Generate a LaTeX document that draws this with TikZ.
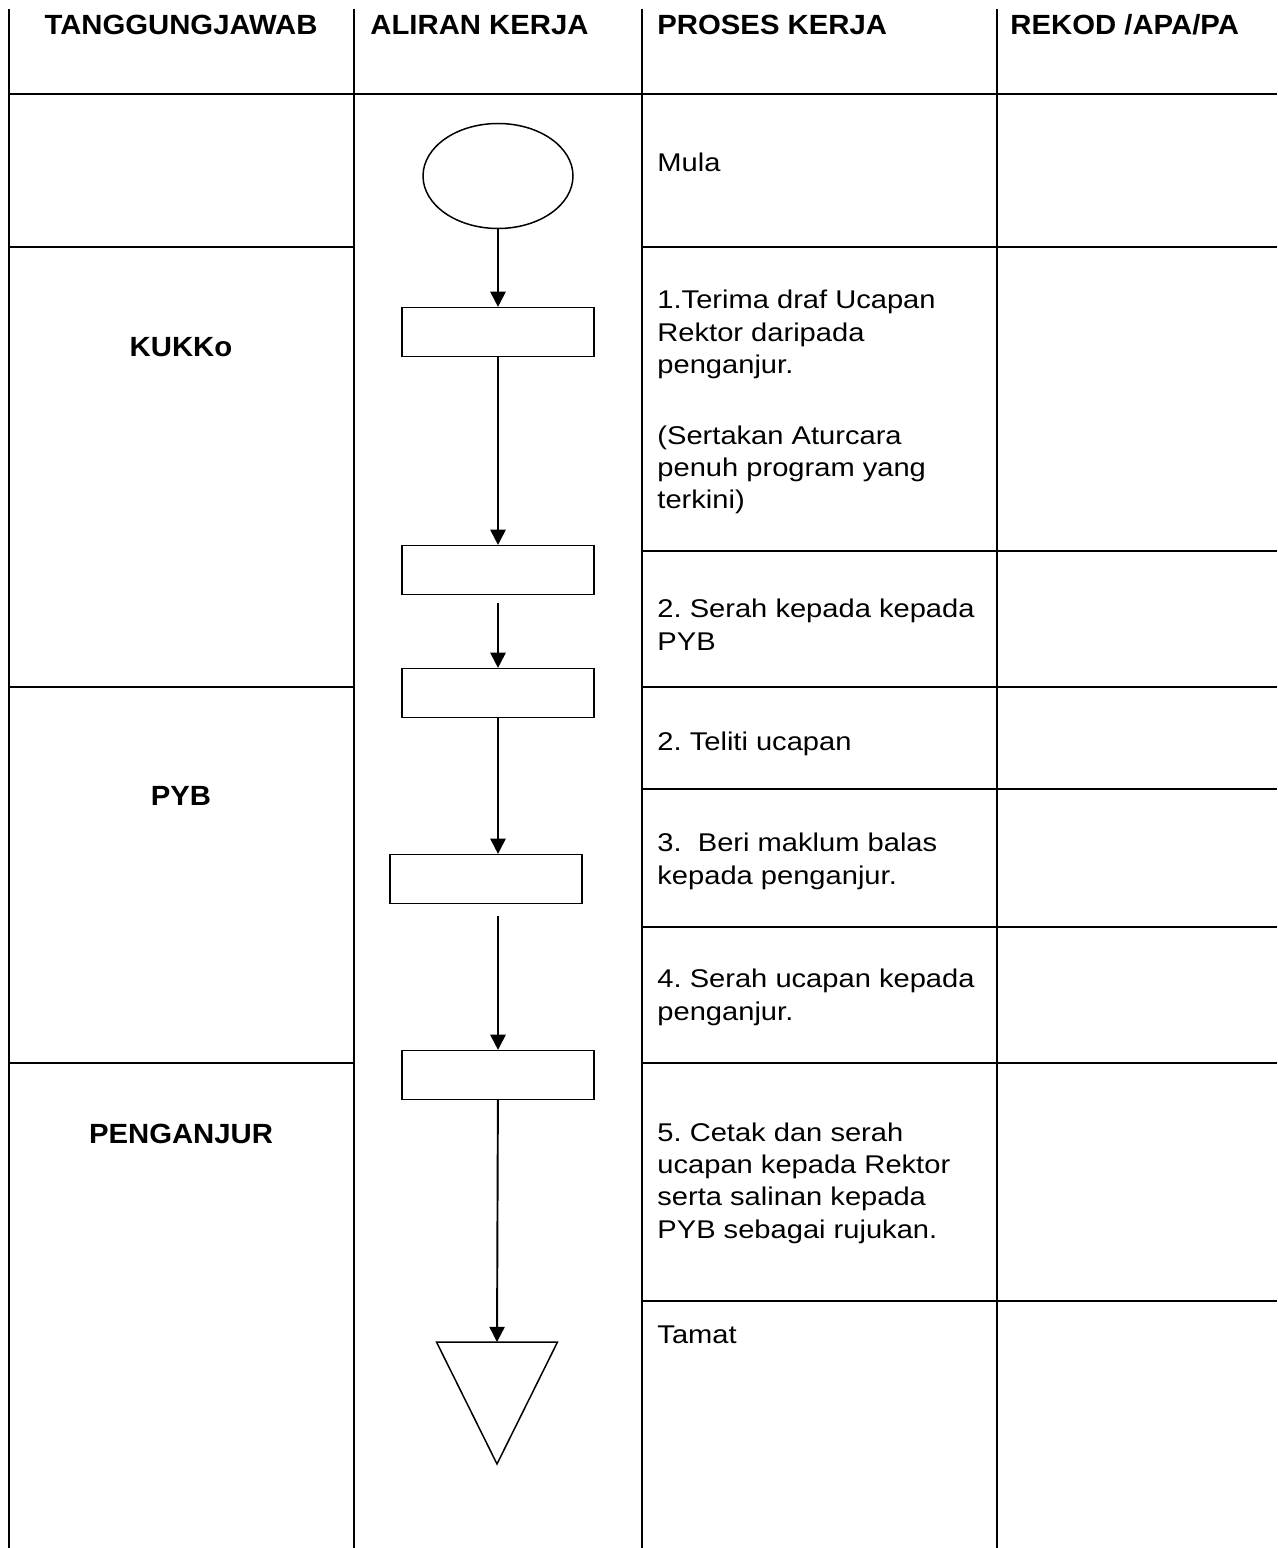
\documentclass[tikz,border=0pt]{standalone}
\usepackage{fontspec}
\setmainfont{Liberation Sans}
\newfontfamily\flowfont{Liberation Sans}[FakeStretch=1.135]
\newfontfamily\headfont{Liberation Sans}[FakeStretch=1.055]
\usetikzlibrary{shapes.geometric,arrows.meta}

\begin{document}
\begin{tikzpicture}[x=0.016445cm,y=-0.016445cm,
    grid/.style={line width=0.9pt},
    hd/.style={font=\headfont\fontsize{13}{16}\selectfont\bfseries,inner sep=0},
    txt/.style={font=\flowfont\fontsize{12}{15.1}\selectfont\frenchspacing,inner sep=0,anchor=base west,align=left},
    flowbox/.style={draw,line width=0.7pt,minimum width=3.157cm,minimum height=0.8cm,inner sep=0},
    arr/.style={line width=0.9pt,-{Triangle[length=0.25cm,width=0.25cm]}}]
      \useasboundingbox (0,0) rectangle (1277,1548);
      \draw[grid] (9,9) -- (9,1548) (354,9) -- (354,1548) (642,9) -- (642,1548) (997,9) -- (997,1548);
      \draw[grid] (9,94) -- (1277,94);
      \foreach \y in {247,687,1063} \draw[grid] (9,\y) -- (354,\y);
      \foreach \y in {247,551,687,789,927,1063,1301} \draw[grid] (642,\y) -- (1277,\y);
      \node[hd,anchor=base] (tj) at (181,35) {TANGGUNGJAWAB};
      \node[hd,anchor=base west] (ak) at (370,35) {ALIRAN KERJA};
      \node[hd,anchor=base west] (pk) at (657,35) {PROSES KERJA};
      \node[hd,anchor=base west] (rk) at (1010,35) {REKOD /APA/PA};
      \node[hd,anchor=base] (kukko) at (181,357) {KUKKo};
      \node[hd,anchor=base] (pyb) at (181,805) {PYB};
      \node[hd,anchor=base] (penganjur) at (181,1143) {PENGANJUR};
      \node[ellipse,draw,line width=0.7pt,minimum width=2.467cm,minimum height=1.727cm,inner sep=0] (mula) at (498,176) {};
      \node[flowbox] (b1) at (498,332) {};
      \node[flowbox] (b2) at (498,570) {};
      \node[flowbox] (b3) at (498,693) {};
      \node[flowbox] (b4) at (486,879) {};
      \node[flowbox] (b5) at (498,1075) {};
      \coordinate (tamat) at (497,1342);
      \draw[line width=0.7pt] (tamat) ++(-60.5,0) -- ++(121,0) -- ++(-60.5,122) -- cycle;
      \draw[arr] (mula) -- (b1);
      \draw[arr] (b1) -- (b2);
      \draw[arr,shorten <=0.13cm] (b2) -- (b3);
      \draw[arr] (b3) -- (b3 |- b4.north);
      \draw[arr,shorten <=0.2cm] (b4.south -| b5) -- (b5);
      \draw[arr] (b5) -- (tamat);
      \node[txt] (t0) at (657,172) {Mula};
      \node[txt] (t1) at (657,509) {1.Terima draf Ucapan\\Rektor daripada\\penganjur.\\[0.64cm](Sertakan Aturcara\\penuh program yang\\terkini)};
      \node[txt] (t2) at (657,650) {2. Serah kepada kepada\\PYB};
      \node[txt] (t3) at (657,750) {2. Teliti ucapan};
      \node[txt] (t4) at (657,884) {3.\ \ Beri maklum balas\\kepada penganjur.};
      \node[txt] (t5) at (657,1020) {4. Serah ucapan kepada\\penganjur.};
      \node[txt] (t6) at (657,1238) {5. Cetak dan serah\\ucapan kepada Rektor\\serta salinan kepada\\PYB sebagai rujukan.};
      \node[txt] (t7) at (657,1343) {Tamat};
\end{tikzpicture}
\end{document}
